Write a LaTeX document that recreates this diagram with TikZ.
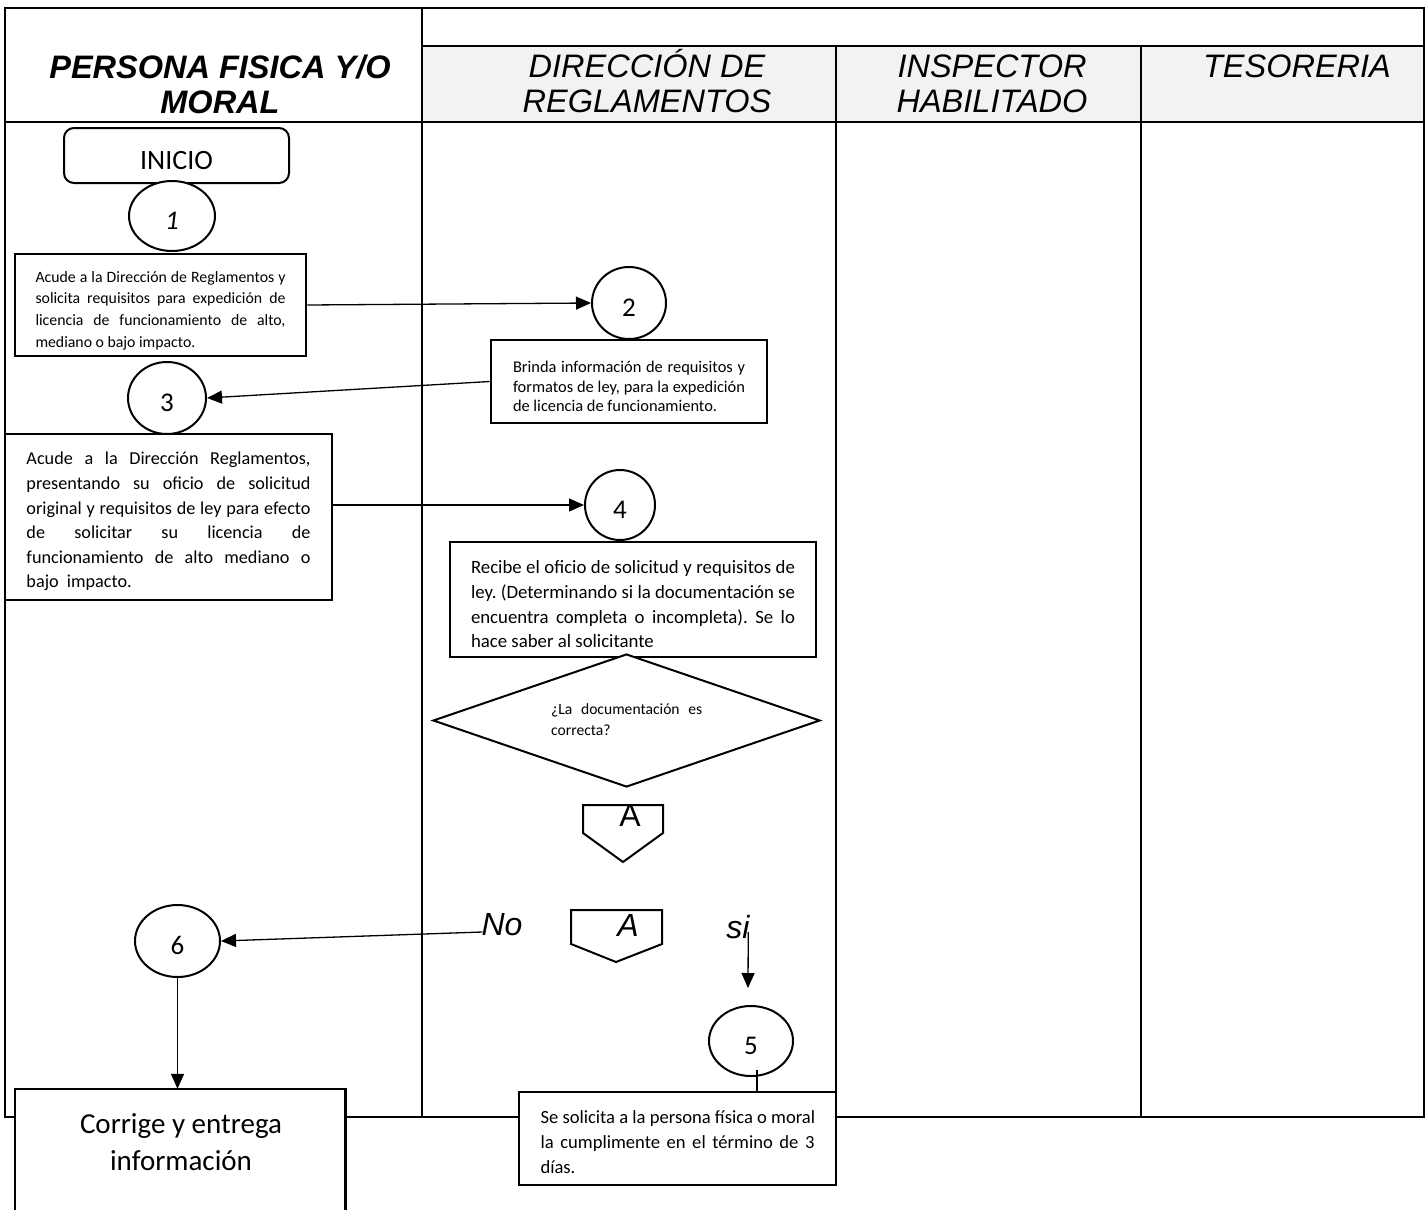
\documentclass[tikz,border=0pt]{standalone}
\usepackage{fontspec}
\setmainfont{Carlito}
\newfontfamily\arialf{Liberation Sans}
\usetikzlibrary{shapes.geometric,arrows.meta,calc}
\definecolor{hgray}{HTML}{F2F2F2}
\newcommand\fs[2]{\fontsize{#1}{#2}\selectfont}
\newcommand\normsp{\frenchspacing\spaceskip=0pt\xspaceskip=0pt\relax}
\newcommand\jl[2]{\leavevmode\hbox to #1{\spaceskip=\fontdimen2\font plus 1fil\relax #2}}
\newcommand\up[1]{\rule{0pt}{#1}}
\begin{document}
\begin{tikzpicture}[x=1pt,y=-1pt,
  lane/.style={line width=2pt},
  box/.style={draw, line width=2.6pt, fill=white, inner sep=0pt, align=left},
  circ/.style={draw, ellipse, line width=2pt, fill=white, inner sep=0pt, font=\fs{27}{30}, text height=27pt, text depth=0pt},
  arr/.style={line width=1.3pt, -{Triangle[length=15pt,width=13pt]}},
  hdr/.style={font=\arialf\itshape\fs{32.5}{35}, align=center, inner sep=0pt},
  conn/.style={line width=2pt, fill=white, line join=miter},
  lbl/.style={font=\arialf\itshape\fs{32}{34}, inner sep=0pt},
]
\useasboundingbox (0,0) rectangle (1427,1210);
\fill[white] (0,0) rectangle (1427,1210);

% ---------- swimlane table ----------
\fill[hgray] (422,46) rectangle (1424,122);
\draw[lane] (5,8) rectangle (1424,1117);
\draw[lane] (422,8) -- (422,1117);
\draw[lane] (422,46) -- (1424,46);
\draw[lane] (5,122) -- (1424,122);
\draw[lane] (836,46) -- (836,1117);
\draw[lane] (1141,46) -- (1141,1117);

\node[hdr, font=\arialf\bfseries\itshape\fs{32.5}{35}] (h1) at (220,84) {\normsp PERSONA FISICA Y/O\\MORAL};
\node[hdr] (h2) at (647,81) {\normsp DIRECCIÓN DE\\REGLAMENTOS};
\node[hdr] (h3) at (992,84) {INSPECTOR\\HABILITADO};
\node[hdr] (h4) at (1297,66) {TESORERIA};

% ---------- nodes ----------
\node[draw, rounded corners=10pt, line width=2pt, minimum width=225pt, minimum height=55pt,
      inner sep=0pt, font=\fs{28}{30}, text height=28pt, text depth=0pt] (inicio) at (176.5,155.5) {INICIO};

\node[circ, minimum width=86pt, minimum height=70pt] (c1) at (172,216) {\itshape 1};

\node[box, minimum width=291pt, minimum height=102pt, font=\fs{15.8}{21.7}, text width=250pt] (b1) at (160.5,305)
 {\normsp\jl{250pt}{\up{22pt}Acude a la Dirección de Reglamentos y}\\
  \jl{250pt}{solicita requisitos para expedición de}\\
  \jl{250pt}{licencia de funcionamiento de alto,}\\
  mediano o bajo impacto.};

\node[circ, minimum width=74pt, minimum height=72pt] (c2) at (629,303) {2};

\node[box, minimum width=276pt, minimum height=83pt, font=\fs{16.4}{19.5}, text width=232pt] (b2) at (629,381.5)
 {\normsp\jl{232pt}{\up{22pt}Brinda información de requisitos y}\\
  \jl{232pt}{formatos de ley, para la expedición}\\
  de licencia de funcionamiento.};

\node[circ, minimum width=78pt, minimum height=72pt] (c3) at (167,398) {3};

\node[box, minimum width=327pt, minimum height=166pt, font=\fs{18.2}{24.6}, text width=284pt] (b3) at (168.5,517)
 {\normsp\jl{284pt}{\up{22pt}Acude a la Dirección Reglamentos,}\\
  \jl{284pt}{presentando su oficio de solicitud}\\
  \jl{284pt}{original y requisitos de ley para efecto}\\
  \jl{284pt}{de solicitar su licencia de}\\
  \jl{284pt}{funcionamiento de alto mediano o}\\
  bajo\ \ impacto.};

\node[circ, minimum width=70pt, minimum height=70pt] (c4) at (620,505) {4};

\node[box, minimum width=366pt, minimum height=115pt, font=\fs{18.8}{24.7}, text width=324pt] (b4) at (633,599.5)
 {\normsp\jl{324pt}{\up{22.5pt}Recibe el oficio de solicitud y requisitos de}\\
  \jl{324pt}{ley. (Determinando si la documentación se}\\
  \jl{324pt}{encuentra completa o incompleta). Se lo}\\
  hace saber al solicitante};

\node[draw, diamond, line width=2pt, fill=white, minimum width=387pt, minimum height=133pt, inner sep=0pt] (dec) at (626.5,720.5) {};
\node[anchor=west, align=left, font=\fs{15.6}{21}, inner sep=0pt] (dectext) at (551,719.5)
 {\normsp\jl{151pt}{¿La documentación es}\\correcta?};

% off-page connectors
\draw[conn] (583,805) -- (663,805) -- (663,833) -- (623,862) -- (583,833) -- cycle;
\node[font=\arialf\fs{32}{34}, inner sep=0pt] (a1) at (630,815) {A};
\draw[conn] (571,910) -- (662,910) -- (662,944) -- (616,962) -- (571,944) -- cycle;
\node[lbl] (a2) at (628,925) {A};

\node[lbl] (no) at (502,925) {No};
\node[lbl] (si) at (738,927) {si};

\node[circ, minimum width=85pt, minimum height=72pt] (c6) at (177.5,941) {6};
\node[circ, minimum width=84pt, minimum height=70pt] (c5) at (751,1041) {5};

\node[box, line width=2.8pt, minimum width=317pt, minimum height=93pt, font=\fs{18.6}{25}, text width=274pt] (b5) at (677.5,1138.5)
 {\normsp\jl{274pt}{\up{20pt}Se solicita a la persona física o moral}\\
  \jl{274pt}{la cumplimente en el término de 3}\\
  días.};

\node[fill=white, inner sep=0pt, minimum width=330pt, minimum height=123pt] (cbox) at (180,1150.5) {};
\draw[line width=2.6pt] (cbox.south west) -- (cbox.north west) -- (cbox.north east) -- (cbox.south east);
\node[font=\fs{29}{37}, align=center, inner sep=0pt] (ctext) at (181,1142) {\normsp Corrige y entrega\\información};

% ---------- connectors ----------
\draw[arr] (b1.east) -- (c2.west);
\draw[arr] (b2.west) -- (c3.east);
\draw[arr] (b3.east |- c4.west) -- (c4.west);
\draw[arr] ($(no.west)+(1,7)$) -- (c6.east);
\draw[arr] (c6.south) -- (c6.south |- cbox.north);
\coordinate (siend) at (748,988);
\draw[arr] ($(si.east)+(-1.5,5)$) -- (siend);
\draw[line width=1.3pt] ($(c5.south)+(6,-7)$) coordinate (c5b) -- (c5b |- b5.north);
\end{tikzpicture}
\end{document}
